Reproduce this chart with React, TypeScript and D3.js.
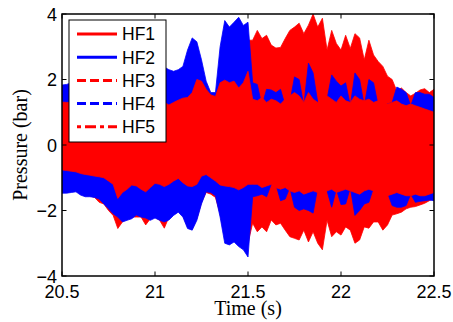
import React from 'react';
import * as d3 from 'd3';

// ---- data: envelopes of the dense pressure signals (bar), sampled every 0.025 s from 20.5 s ----
const T0 = 20.5;
const DT = 0.025;

const hf1Top = [1.6,1.6,1.65,1.7,1.75,1.8,1.8,1.8,1.85,1.9,1.9,1.95,2.0,1.95,2.0,2.05,2.0,2.1,2.05,2.1,2.15,2.1,2.1,2.0,1.95,2.0,2.1,2.5,2.6,2.4,1.9,1.5,1.45,1.45,2.3,3.0,3.0,3.1,3.2,3.1,3.2,
  3.2,3.5,3.25,3.35,3.05,2.96,2.98,3.25,3.5,3.6,3.72,3.4,3.66,4.0,3.6,3.87,2.9,3.5,3.1,2.9,3.35,2.95,3.4,3.27,2.6,3.2,2.75,2.55,2.4,2.1,2.0,1.65,1.74,1.6,1.5,1.58,1.68,1.72,1.6,1.7];
const hf1Bot = [-1.4,-1.4,-1.4,-1.4,-1.5,-1.55,-1.55,-1.6,-1.75,-1.8,-2.0,-2.15,-2.55,-2.35,-2.2,-2.2,-2.2,-2.2,-2.44,-2.25,-2.2,-2.3,-2.54,-2.2,-2.1,-2.0,-2.15,-2.5,-2.55,-2.25,-1.75,-1.45,-1.5,-1.6,-2.1,-2.8,-2.8,-2.7,-2.8,-2.9,-3.0,
  -2.39,-2.65,-2.5,-2.65,-2.29,-2.44,-2.39,-2.6,-2.8,-2.85,-2.9,-2.6,-2.96,-2.65,-3.0,-3.2,-2.3,-2.8,-2.65,-2.75,-2.5,-2.6,-3.0,-2.9,-2.5,-2.54,-2.35,-2.35,-2.6,-2.44,-2.14,-2.1,-2.05,-1.95,-1.9,-1.88,-1.83,-1.78,-1.7,-1.63];

const hf2Top = [1.83,1.85,1.9,1.95,2.0,2.05,2.1,2.0,2.1,2.2,2.15,2.25,2.3,2.2,2.3,2.35,2.3,2.4,2.35,2.4,2.45,2.4,2.38,2.3,2.25,2.3,2.4,2.9,3.27,3.15,2.6,1.95,1.6,1.6,3.0,3.8,3.6,3.75,3.9,3.65,3.75,
  1.9,1.85,1.2,1.7,1.68,1.6,1.7,1.2,1.3,2.08,2.0,1.2,2.5,2.2,1.3,1.2,1.4,2.14,1.95,1.8,1.9,1.2,2.2,2.0,1.2,2.0,1.9,1.2,1.2,1.25,1.3,1.77,1.7,1.6,1.2,1.6,1.6,1.55,1.55,1.45];
const hf2Bot = [-1.47,-1.47,-1.45,-1.43,-1.53,-1.58,-1.58,-1.6,-1.65,-1.8,-1.95,-2.1,-2.2,-2.35,-2.3,-2.25,-2.14,-2.2,-2.23,-2.3,-2.23,-2.3,-2.35,-2.29,-2.15,-2.05,-2.2,-2.55,-2.6,-2.3,-1.8,-1.43,-1.45,-1.55,-2.2,-3.0,-3.05,-2.96,-3.1,-3.2,-3.42,
  -1.58,-1.55,-1.5,-1.58,-1.2,-1.2,-1.7,-1.65,-1.3,-1.9,-2.0,-1.95,-2.0,-2.08,-1.3,-1.3,-1.4,-1.9,-1.35,-1.82,-1.8,-1.3,-2.15,-2.0,-1.8,-1.75,-1.3,-1.35,-1.4,-1.45,-1.85,-1.9,-1.9,-1.85,-1.5,-1.75,-1.72,-1.7,-1.68,-1.7];

// HF3 / HF4: sampled every 0.1 s
const DT_COARSE = 0.1;
const hf3Top = [0.7,0.75,0.8,0.8,0.85,0.9,0.85,0.9,0.9,0.95,0.95,0.9,0.9,0.9,0.95,0.9,0.85,0.8,0.8,0.75,0.7];
const hf3Bot = [-0.6,-0.65,-0.7,-0.7,-0.7,-0.7,-0.65,-0.7,-0.7,-0.7,-0.7,-0.7,-0.7,-0.7,-0.7,-0.7,-0.7,-0.7,-0.7,-0.7,-0.7];
const hf4Top = [0.6,0.65,0.7,0.7,0.75,0.8,0.75,0.8,0.8,0.85,0.85,0.8,0.8,0.8,0.85,0.8,0.75,0.7,0.7,0.65,0.6];
const hf4Bot = [-0.5,-0.55,-0.6,-0.6,-0.6,-0.6,-0.55,-0.6,-0.6,-0.6,-0.6,-0.6,-0.6,-0.6,-0.6,-0.6,-0.6,-0.6,-0.6,-0.6,-0.6];

const hf5Top = [1.31,1.3,1.3,1.32,1.35,1.35,1.38,1.4,1.4,1.42,1.45,1.45,1.4,1.42,1.45,1.5,1.45,1.4,1.45,1.5,1.45,1.4,1.3,1.22,1.3,1.37,1.43,1.45,1.6,2.0,1.95,1.7,1.53,1.48,1.9,1.98,1.9,1.95,1.74,1.9,2.25,
  1.4,1.35,1.45,1.3,1.4,1.35,1.25,1.4,1.5,1.6,1.5,1.3,1.6,1.4,1.3,1.45,1.5,1.4,1.3,1.5,1.35,1.3,1.5,1.4,1.35,1.4,1.3,1.35,1.3,1.25,1.3,1.35,1.25,1.2,1.25,1.2,1.15,1.1,1.05,1.0];
const hf5Bot = [-0.76,-0.78,-0.8,-0.82,-0.87,-0.9,-0.92,-0.95,-0.97,-1.0,-1.1,-1.2,-1.63,-1.45,-1.35,-1.22,-1.25,-1.35,-1.43,-1.3,-1.17,-1.2,-1.27,-1.2,-1.1,-1.02,-1.15,-1.25,-1.27,-1.2,-0.95,-0.9,-1.0,-1.1,-1.22,-1.25,-1.27,-1.3,-1.37,-1.3,-1.2,
  -1.2,-1.2,-1.3,-1.25,-1.2,-1.3,-1.35,-1.3,-1.4,-1.45,-1.4,-1.5,-1.45,-1.4,-1.45,-1.5,-1.4,-1.35,-1.45,-1.4,-1.35,-1.4,-1.45,-1.5,-1.4,-1.35,-1.4,-1.45,-1.5,-1.55,-1.5,-1.45,-1.5,-1.55,-1.55,-1.5,-1.55,-1.55,-1.5,-1.45];

const seriesNames = ['HF1', 'HF2', 'HF3', 'HF4', 'HF5'];
const seriesColors = ['#ff0000', '#0000ff', '#ff0000', '#0000ff', '#ff0000'];
const seriesDash = ['', '', '9,4', '9,4', '4,4,11,4'];

const xTicks = [20.5, 21, 21.5, 22, 22.5];
const xTickLabels = ['20.5', '21', '21.5', '22', '22.5'];
const yTicks = [-4, -2, 0, 2, 4];
const yTickLabels = ['\u22124', '\u22122', '0', '2', '4'];

const xDomain = [20.5, 22.5];
const yDomain = [-4, 4];

type Env = { t: number; lo: number; hi: number };
function makeEnv(top: number[], bot: number[], dt: number): Env[] {
  return top.map((v, i) => ({ t: T0 + i * dt, lo: bot[i], hi: v }));
}

export default function App() {
  const W = 453, H = 322;
  const L = 62, R = 434, T = 14, B = 276;
  const x = d3.scaleLinear().domain(xDomain).range([L, R]);
  const y = d3.scaleLinear().domain(yDomain).range([B, T]);

  const area = d3.area<Env>().x(d => x(d.t)).y0(d => y(d.lo)).y1(d => y(d.hi)).curve(d3.curveLinear);

  const layers = [
    makeEnv(hf1Top, hf1Bot, DT),
    makeEnv(hf2Top, hf2Bot, DT),
    makeEnv(hf3Top, hf3Bot, DT_COARSE),
    makeEnv(hf4Top, hf4Bot, DT_COARSE),
    makeEnv(hf5Top, hf5Bot, DT),
  ];

  const sans = 'Liberation Sans, Arial, Helvetica, sans-serif';
  const serif = 'Liberation Serif, Times New Roman, serif';
  const tickLen = 4.5;

  const legX = 69, legY = 20, legW = 97, legH = 122;
  const rowY = (i: number) => 34 + i * 23.2;

  return (
    <svg width={W} height={H} style={{ position: 'absolute', left: 0, top: 0, background: '#fff' }}>
      <rect x={0} y={0} width={W} height={H} fill="#fff" />
      <defs>
        <clipPath id="plotclip">
          <rect x={L} y={T} width={R - L} height={B - T} />
        </clipPath>
      </defs>
      <g clipPath="url(#plotclip)">
        {layers.map((d, i) => (
          <path key={i} d={area(d) || ''} fill={seriesColors[i]} stroke={seriesColors[i]} strokeWidth={0.8} />
        ))}
      </g>
      {/* ticks */}
      {xTicks.map((t, i) => (
        <g key={'xt' + i}>
          <line x1={x(t)} x2={x(t)} y1={B} y2={B - tickLen} stroke="#000" strokeWidth={1} />
          <line x1={x(t)} x2={x(t)} y1={T} y2={T + tickLen} stroke="#000" strokeWidth={1} />
          <text x={x(t)} y={298} textAnchor="middle" fontFamily={sans} fontSize={18} fill="#000">{xTickLabels[i]}</text>
        </g>
      ))}
      {yTicks.map((v, i) => (
        <g key={'yt' + i}>
          <line x1={L} x2={L + tickLen} y1={y(v)} y2={y(v)} stroke="#000" strokeWidth={1} />
          <line x1={R} x2={R - tickLen} y1={y(v)} y2={y(v)} stroke="#000" strokeWidth={1} />
          <text x={57} y={y(v) + 6.5} textAnchor="end" fontFamily={sans} fontSize={18} fill="#000">{yTickLabels[i]}</text>
        </g>
      ))}
      <rect x={L} y={T} width={R - L} height={B - T} fill="none" stroke="#000" strokeWidth={1.5} />
      {/* axis labels */}
      <text x={248} y={315} textAnchor="middle" fontFamily={serif} fontSize={20} fill="#000">Time (s)</text>
      <text transform="translate(27,145) rotate(-90)" textAnchor="middle" fontFamily={serif} fontSize={20} fill="#000">Pressure (bar)</text>
      {/* legend */}
      <rect x={legX} y={legY} width={legW} height={legH} fill="#fff" stroke="#000" strokeWidth={1} />
      {seriesNames.map((n, i) => (
        <g key={'lg' + i}>
          <line x1={77} x2={117} y1={rowY(i)} y2={rowY(i)} stroke={seriesColors[i]} strokeWidth={3}
            strokeDasharray={seriesDash[i] || undefined} />
          <text x={122} y={rowY(i) + 6.3} fontFamily={sans} fontSize={17.5} fill="#000">{n}</text>
        </g>
      ))}
    </svg>
  );
}
